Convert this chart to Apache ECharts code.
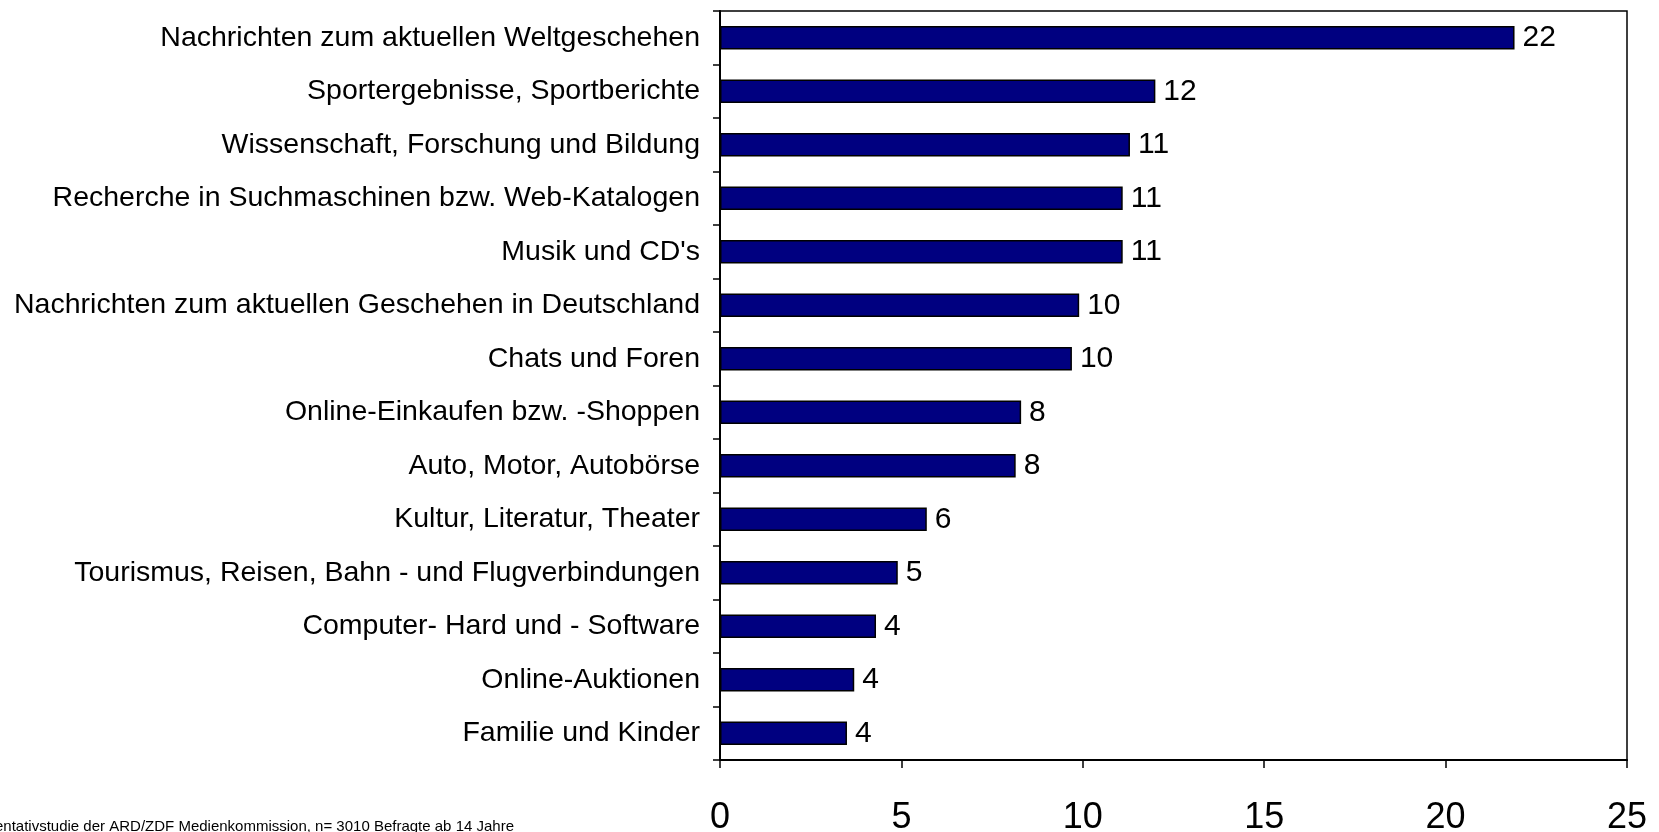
<!DOCTYPE html>
<html>
<head>
<meta charset="utf-8">
<script src="https://cdn.jsdelivr.net/npm/echarts@6/dist/echarts.min.js"></script>
<style>
html,body{margin:0;padding:0;background:#fff;}
#chart{width:1659px;height:832px;}
</style>
</head>
<body>
<div id="chart"></div>
<script>
const categories = [
  "Nachrichten zum aktuellen Weltgeschehen",
  "Sportergebnisse, Sportberichte",
  "Wissenschaft, Forschung und Bildung",
  "Recherche in Suchmaschinen bzw. Web-Katalogen",
  "Musik und CD's",
  "Nachrichten zum aktuellen Geschehen in Deutschland",
  "Chats und Foren",
  "Online-Einkaufen bzw. -Shoppen",
  "Auto, Motor, Autobörse",
  "Kultur, Literatur, Theater",
  "Tourismus, Reisen, Bahn - und Flugverbindungen",
  "Computer- Hard und - Software",
  "Online-Auktionen",
  "Familie und Kinder"
];
const values = [21.9, 12.0, 11.3, 11.1, 11.1, 9.9, 9.7, 8.3, 8.15, 5.7, 4.9, 4.3, 3.7, 3.5];
const valueLabels = ["22", "12", "11", "11", "11", "10", "10", "8", "8", "6", "5", "4", "4", "4"];
const xTicks = [0, 5, 10, 15, 20, 25];
const footnote = "Repräsentativstudie der ARD/ZDF Medienkommission, n= 3010 Befragte ab 14 Jahre";

const FONT = "Liberation Sans, Arial, sans-serif";
const chart = echarts.init(document.getElementById('chart'), null, {renderer: 'canvas'});
chart.setOption({
  animation: false,
  backgroundColor: '#fff',
  grid: {
    left: 720, right: 32, top: 11, bottom: 72,
    containLabel: false, outerBoundsMode: 'none',
    show: true, borderColor: '#000', borderWidth: 1.5, backgroundColor: 'transparent'
  },
  xAxis: {
    type: 'value',
    min: xTicks[0], max: xTicks[xTicks.length - 1], interval: 5,
    axisLine: {show: true, onZero: false, lineStyle: {color: '#000', width: 2}},
    axisTick: {show: true, inside: false, length: 8, lineStyle: {color: '#000', width: 1.5}},
    axisLabel: {color: '#000', fontFamily: FONT, fontSize: 36, margin: 40},
    splitLine: {show: false}
  },
  yAxis: {
    type: 'category',
    data: categories,
    inverse: true,
    axisLine: {show: true, lineStyle: {color: '#000', width: 2}},
    axisTick: {show: true, inside: false, length: 7, lineStyle: {color: '#000', width: 1.5}},
    axisLabel: {color: '#000', fontFamily: FONT, fontSize: 28.5, margin: 20},
    splitLine: {show: false}
  },
  series: [{
    type: 'bar',
    data: values,
    barCategoryGap: '56%',
    itemStyle: {color: '#000080', borderColor: '#000', borderWidth: 1.5},
    label: {
      show: true, position: 'right', distance: 8,
      color: '#000', fontFamily: FONT, fontSize: 30,
      formatter: p => valueLabels[p.dataIndex]
    }
  }],
  graphic: [{
    type: 'text',
    right: 1659 - 514,
    top: 819,
    style: {text: footnote, fill: '#000', font: '15px ' + FONT}
  }]
});
</script>
</body>
</html>
